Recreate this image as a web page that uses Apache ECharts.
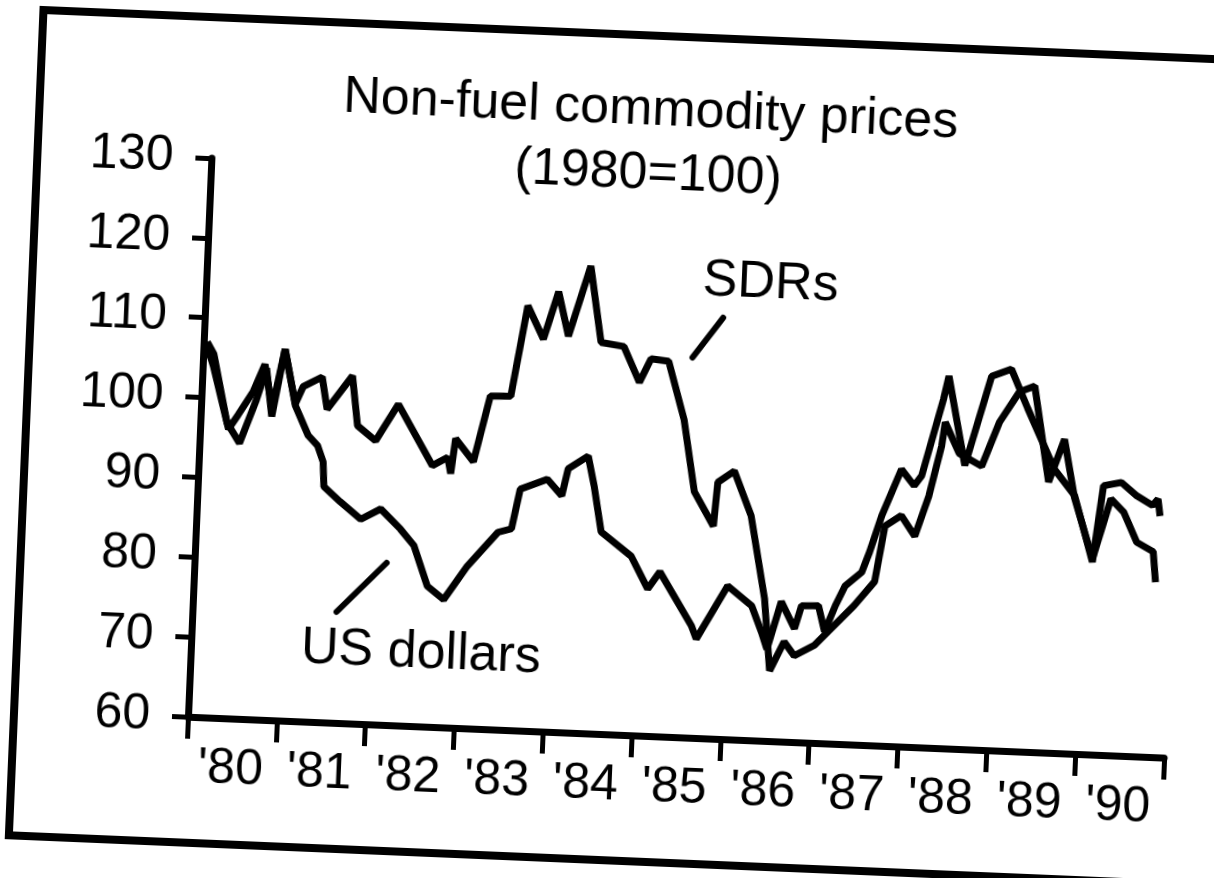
<!DOCTYPE html>
<html>
<head>
<meta charset="utf-8">
<script src="https://cdn.jsdelivr.net/npm/echarts@6/dist/echarts.min.js"></script>
<style>
  html, body { margin: 0; padding: 0; background: #fff; overflow: hidden; }
  /* the scanned original sits a little askew */
  #chart { width: 1214px; height: 878px; transform: rotate(2.4deg); }
</style>
</head>
<body>
<div id="chart"></div>
<script>
// year labels on the x axis (ticks sit on the year boundaries)
var yearLabels = ["'80", "'81", "'82", "'83", "'84", "'85", "'86", "'87", "'88", "'89", "'90"];

// SDR-based index
var sdrYears = [1980.04, 1980.12, 1980.32, 1980.42, 1980.58, 1980.70, 1980.80, 1980.92,
  1981.06, 1981.14, 1981.35, 1981.42, 1981.69, 1981.77, 1981.98,
  1982.22, 1982.63, 1982.80, 1982.84, 1982.88,
  1983.09, 1983.25, 1983.48, 1983.63, 1983.82, 1983.97,
  1984.10, 1984.32, 1984.47, 1984.73, 1984.92,
  1985.04, 1985.24, 1985.44, 1985.59, 1985.82, 1985.85,
  1986.03, 1986.24, 1986.43, 1986.52, 1986.67, 1986.79,
  1987.01, 1987.16, 1987.44, 1987.66, 1987.75, 1987.93,
  1988.09, 1988.23, 1988.35, 1988.38, 1988.55, 1988.81, 1988.99,
  1989.20, 1989.37, 1989.57, 1989.73, 1989.87,
  1990.10, 1990.28, 1990.43, 1990.59, 1990.78, 1990.82];
var sdrValues = [106.5, 104, 96.2, 98, 101, 104.5, 99, 106.5,
  99.7, 101.9, 103.2, 99.2, 103.5, 97.3, 95.5,
  100.2, 92.7, 93.8, 91.8, 96.2,
  93.4, 101.7, 101.8, 113.2, 109.1, 115.1,
  109.6, 118.5, 109, 108.6, 104.2,
  107.2, 107, 99.8, 90.8, 86.6, 92.1,
  93.6, 88.1, 77.8, 68.8, 72.5, 70.8,
  72.2, 74, 77.4, 80.5, 87.5, 88.9,
  86.4, 91.5, 97.8, 100.8, 97, 95.5, 101.1,
  105, 105.8, 93.9, 99.3, 92,
  84.5, 92.1, 90.5, 86.8, 85.7, 81.9];

// US-dollar index
var usdYears = [1980.04, 1980.12, 1980.30, 1980.45, 1980.62, 1980.72, 1980.80, 1980.92,
  1981.06, 1981.22, 1981.33, 1981.40, 1981.42, 1981.61, 1981.85,
  1982.07, 1982.30, 1982.46, 1982.63, 1982.82,
  1983.07, 1983.40, 1983.55, 1983.63, 1983.93,
  1984.10, 1984.16, 1984.38, 1984.46, 1984.56, 1984.91,
  1985.11, 1985.24, 1985.62, 1985.68,
  1986.01, 1986.29, 1986.41, 1986.48, 1986.62, 1986.78, 1986.85,
  1987.04, 1987.12, 1987.23, 1987.33, 1987.51, 1987.59, 1987.71, 1987.91,
  1988.06, 1988.14, 1988.35, 1988.40, 1988.62, 1988.88,
  1989.10, 1989.30, 1989.63, 1989.87,
  1990.10, 1990.19, 1990.39, 1990.57, 1990.75, 1990.81, 1990.84];
var usdValues = [107, 105.5, 97, 94.5, 100, 104, 98, 106.5,
  99.5, 95.8, 94.6, 92.6, 89.5, 87.7, 85.6,
  87, 84.6, 82.6, 77.6, 76,
  80.3, 84.7, 85.2, 90.2, 91.6,
  89.6, 93, 94.7, 91, 85.3, 82.4,
  78.4, 80.6, 74, 72.4,
  79.2, 76.8, 73.6, 71.5, 77.5, 74.2, 77.1,
  77.2, 74, 77.3, 79.8, 81.6, 84.2, 88.8, 94.7,
  92.7, 94, 103.7, 106.6, 95.5, 106.8,
  107.8, 103, 95.5, 92.3,
  84.1, 93.7, 94.2, 92.6, 91.5, 92.3, 90.2];

function pairs(xs, ys) {
  var out = [];
  for (var i = 0; i < xs.length; i++) out.push([xs[i], ys[i]]);
  return out;
}

var font = "'Liberation Sans', Arial, Helvetica, sans-serif";

(function () {
  var chart = echarts.init(document.getElementById('chart'));
  var option = {
    animation: false,
    backgroundColor: '#fff',
    title: {
      text: 'Non-fuel commodity prices\n(1980=100)',
      left: 632,
      top: 72,
      textAlign: 'center',
      textStyle: { fontFamily: font, fontSize: 52, fontWeight: 'normal', color: '#000', lineHeight: 64 }
    },
    grid: { left: 200, top: 175, width: 977, height: 559, containLabel: false },
    xAxis: [
      {
        type: 'category',
        data: yearLabels,
        boundaryGap: true,
        axisLine: { onZero: false, lineStyle: { color: '#000', width: 7 } },
        axisTick: { show: true, length: 22, lineStyle: { color: '#000', width: 5 } },
        axisLabel: { interval: 0, margin: 26, fontSize: 50, fontFamily: font, color: '#000' },
        splitLine: { show: false }
      },
      {
        type: 'value',
        min: 1980,
        max: 1991,
        show: false
      }
    ],
    yAxis: {
      type: 'value',
      min: 60,
      max: 130,
      interval: 10,
      axisLine: { show: true, lineStyle: { color: '#000', width: 7 } },
      axisTick: { show: true, length: 16, lineStyle: { color: '#000', width: 5 } },
      axisLabel: { margin: 38, fontSize: 50, fontFamily: font, color: '#000' },
      splitLine: { show: false }
    },
    series: [
      {
        name: 'SDRs',
        type: 'line',
        xAxisIndex: 1,
        showSymbol: false,
        lineStyle: { color: '#000', width: 7 },
        data: pairs(sdrYears, sdrValues)
      },
      {
        name: 'US dollars',
        type: 'line',
        xAxisIndex: 1,
        showSymbol: false,
        lineStyle: { color: '#000', width: 7 },
        data: pairs(usdYears, usdValues)
      }
    ],
    graphic: [
      // outer box
      { type: 'rect', shape: { x: 26, y: 34, width: 1194, height: 826 },
        style: { fill: 'none', stroke: '#000', lineWidth: 8 } },
      { type: 'text', x: 764, y: 277,
        style: { text: 'SDRs', font: '52px ' + font, fill: '#000', align: 'center', verticalAlign: 'middle' } },
      { type: 'line', shape: { x1: 718, y1: 313, x2: 689, y2: 354 },
        style: { stroke: '#000', lineWidth: 6, lineCap: 'round' } },
      { type: 'text', x: 430, y: 661,
        style: { text: 'US dollars', font: '52px ' + font, fill: '#000', align: 'center', verticalAlign: 'middle' } },
      { type: 'line', shape: { x1: 392, y1: 572, x2: 344, y2: 623 },
        style: { stroke: '#000', lineWidth: 6, lineCap: 'round' } }
    ]
  };
  chart.setOption(option);
})();
</script>
</body>
</html>
